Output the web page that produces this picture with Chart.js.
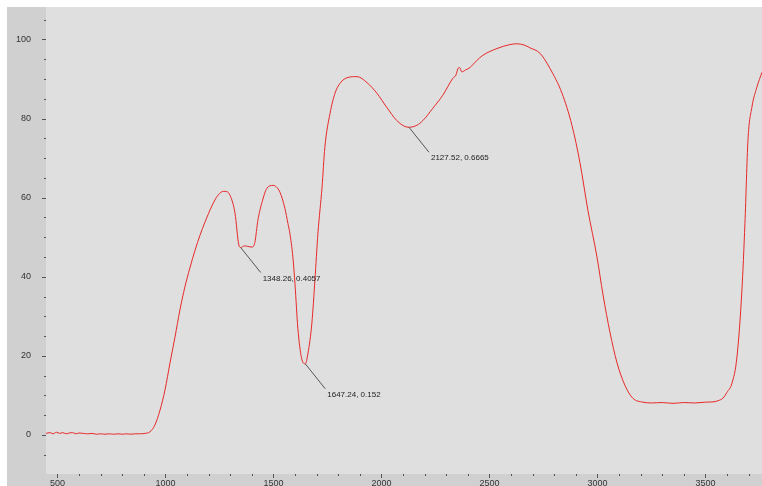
<!DOCTYPE html>
<html>
<head>
<meta charset="utf-8">
<script src="https://cdn.jsdelivr.net/npm/chart.js@4/dist/chart.umd.min.js"></script>
<style>
  html, body { margin: 0; padding: 0; background: #fff; }
  canvas { display: block; }
</style>
</head>
<body>
<canvas id="spectrum" width="762" height="486"></canvas>
<script>
// 스펙트럼 데이터 (파수, 투과율)
const wavenumber = [
  447, 465, 480, 495, 510, 525, 540, 555, 570, 585, 600, 620, 640, 660, 680, 700,
  720, 740, 760, 780, 800, 820, 840, 860, 880, 905, 928, 951, 975, 998, 1021, 1044,
  1067, 1090, 1113, 1137, 1160, 1183, 1215, 1243, 1269, 1285, 1299, 1322, 1340, 1348.26,
  1365, 1380, 1401, 1414, 1428, 1447, 1470, 1498, 1530, 1553, 1567, 1576, 1590, 1600,
  1613, 1630, 1647.24, 1660, 1678, 1692, 1706, 1725, 1738, 1762, 1785, 1808, 1845, 1887,
  1933, 1979, 2025, 2071, 2109, 2127.52, 2164, 2192, 2238, 2284, 2331, 2345, 2354, 2362,
  2372, 2390, 2410, 2440, 2470, 2535, 2595, 2627, 2660, 2687, 2734, 2780, 2836, 2882,
  2919, 2956, 2998, 3026, 3058, 3090, 3127, 3164, 3211, 3250, 3300, 3350, 3400, 3450,
  3500, 3540, 3565, 3581, 3600, 3623, 3646, 3669, 3683, 3697, 3715, 3738, 3762
];
const transmittance = [
  0.4, 0.6, 0.3, 0.7, 0.4, 0.6, 0.3, 0.5, 0.6, 0.3, 0.5, 0.4, 0.3, 0.4, 0.2, 0.3,
  0.2, 0.3, 0.2, 0.3, 0.2, 0.3, 0.2, 0.3, 0.3, 0.4, 0.8, 2.5, 6.3, 11.4, 18.2, 24.7,
  31.6, 37.4, 42.2, 46.7, 50.5, 53.8, 57.9, 60.6, 61.6, 61.5, 60.6, 56.1, 48.0, 47.4,
  47.8, 47.7, 47.5, 48.7, 54.3, 58.8, 62.4, 63.1, 61.4, 57.3, 53.5, 51.0, 45.0, 38.0,
  27.0, 19.5, 18.0, 20.7, 28.3, 39.1, 51.0, 62.6, 72.7, 81.3, 86.4, 88.9, 90.4, 90.6,
  89.1, 86.4, 82.8, 79.5, 78.0, 77.8, 78.3, 79.5, 82.6, 85.9, 90.2, 91.0, 92.6, 92.9,
  91.8, 92.3, 92.9, 94.6, 96.0, 97.7, 98.7, 98.9, 98.6, 97.9, 96.5, 92.7, 86.4, 78.3,
  68.9, 56.8, 45.0, 35.4, 26.0, 18.4, 12.6, 9.3, 8.3, 8.1, 8.2, 8.0, 8.2, 8.1,
  8.3, 8.4, 8.8, 9.3, 10.8, 13.1, 19.7, 36.6, 53.5, 74.5, 82.8, 87.9, 91.7
];

// 축 눈금
const xTicks = [500, 1000, 1500, 2000, 2500, 3000, 3500];
const yTicks = [0, 20, 40, 60, 80, 100];

// 피크 표시 (파수, 표시 문자열)
const peakX = [1348.26, 1647.24, 2127.52];
const peakLabels = ['1348.26, 0.4057', '1647.24, 0.152', '2127.52, 0.6665'];

const narrowFont = '"Liberation Sans Narrow", "Liberation Sans", sans-serif';

// 배경: 바깥 패널과 플롯 영역
const backgroundPlugin = {
  id: 'panelBackground',
  beforeDraw(chart) {
    const { ctx, chartArea: a } = chart;
    ctx.save();
    ctx.fillStyle = '#ffffff';
    ctx.fillRect(0, 0, chart.width, chart.height);
    ctx.fillStyle = '#d0d0d0';
    ctx.fillRect(7, 7, chart.width - 7, chart.height - 7);
    ctx.fillStyle = '#dfdfdf';
    ctx.fillRect(a.left, a.top, a.right - a.left, a.bottom - a.top);
    ctx.restore();
  }
};

// 눈금선과 눈금 라벨
const axisPlugin = {
  id: 'axisTicks',
  afterDraw(chart) {
    const { ctx, chartArea: a, scales } = chart;
    ctx.save();
    ctx.strokeStyle = '#555';
    ctx.lineWidth = 1;
    ctx.beginPath();
    for (let v = -5; v <= 105; v += 5) {
      const y = Math.round(scales.y.getPixelForValue(v)) + 0.5;
      const len = v % 20 === 0 ? 4 : 2;
      ctx.moveTo(a.left - len, y);
      ctx.lineTo(a.left, y);
    }
    for (let v = 500; v <= 3700; v += 100) {
      const x = Math.round(scales.x.getPixelForValue(v)) + 0.5;
      const len = v % 500 === 0 ? 4 : 2;
      ctx.moveTo(x, a.bottom);
      ctx.lineTo(x, a.bottom + len);
    }
    ctx.stroke();

    ctx.fillStyle = '#333';
    ctx.font = '9px ' + narrowFont;
    ctx.textBaseline = 'middle';
    ctx.textAlign = 'right';
    yTicks.forEach(v => {
      ctx.fillText(String(v), a.left - 15, scales.y.getPixelForValue(v));
    });
    ctx.textAlign = 'center';
    xTicks.forEach(v => {
      ctx.fillText(String(v), scales.x.getPixelForValue(v), a.bottom + 10);
    });
    ctx.restore();
  }
};

// 피크 위치에 지시선과 값 표시
const peakLabelPlugin = {
  id: 'peakLabels',
  afterDatasetsDraw(chart) {
    const { ctx, scales } = chart;
    ctx.save();
    ctx.strokeStyle = '#555';
    ctx.fillStyle = '#222';
    ctx.lineWidth = 1;
    ctx.font = '8px ' + narrowFont;
    ctx.textBaseline = 'middle';
    peakX.forEach((px, i) => {
      const idx = wavenumber.indexOf(px);
      const x = scales.x.getPixelForValue(px);
      const y = scales.y.getPixelForValue(transmittance[idx]);
      ctx.beginPath();
      ctx.moveTo(x, y);
      ctx.lineTo(x + 20, y + 25);
      ctx.stroke();
      ctx.fillText(peakLabels[i], x + 22, y + 31);
    });
    ctx.restore();
  }
};

new Chart(document.getElementById('spectrum'), {
  type: 'line',
  data: {
    datasets: [{
      data: wavenumber.map((w, i) => ({ x: w, y: transmittance[i] })),
      borderColor: 'rgb(232, 40, 40)',
      borderWidth: 1,
      pointRadius: 0,
      fill: false,
      cubicInterpolationMode: 'monotone'
    }]
  },
  options: {
    responsive: false,
    animation: false,
    devicePixelRatio: 1,
    layout: { autoPadding: false, padding: { top: 7, left: 7, right: 0, bottom: 0 } },
    plugins: { legend: { display: false }, tooltip: { enabled: false } },
    scales: {
      x: {
        type: 'linear',
        min: 447,
        max: 3762,
        grid: { display: false },
        border: { display: false },
        ticks: { display: false },
        afterFit: scale => { scale.height = 12; }
      },
      y: {
        type: 'linear',
        min: -9.86,
        max: 108.2,
        grid: { display: false },
        border: { display: false },
        ticks: { display: false },
        afterFit: scale => { scale.width = 39; }
      }
    }
  },
  plugins: [backgroundPlugin, axisPlugin, peakLabelPlugin]
});
</script>
</body>
</html>
